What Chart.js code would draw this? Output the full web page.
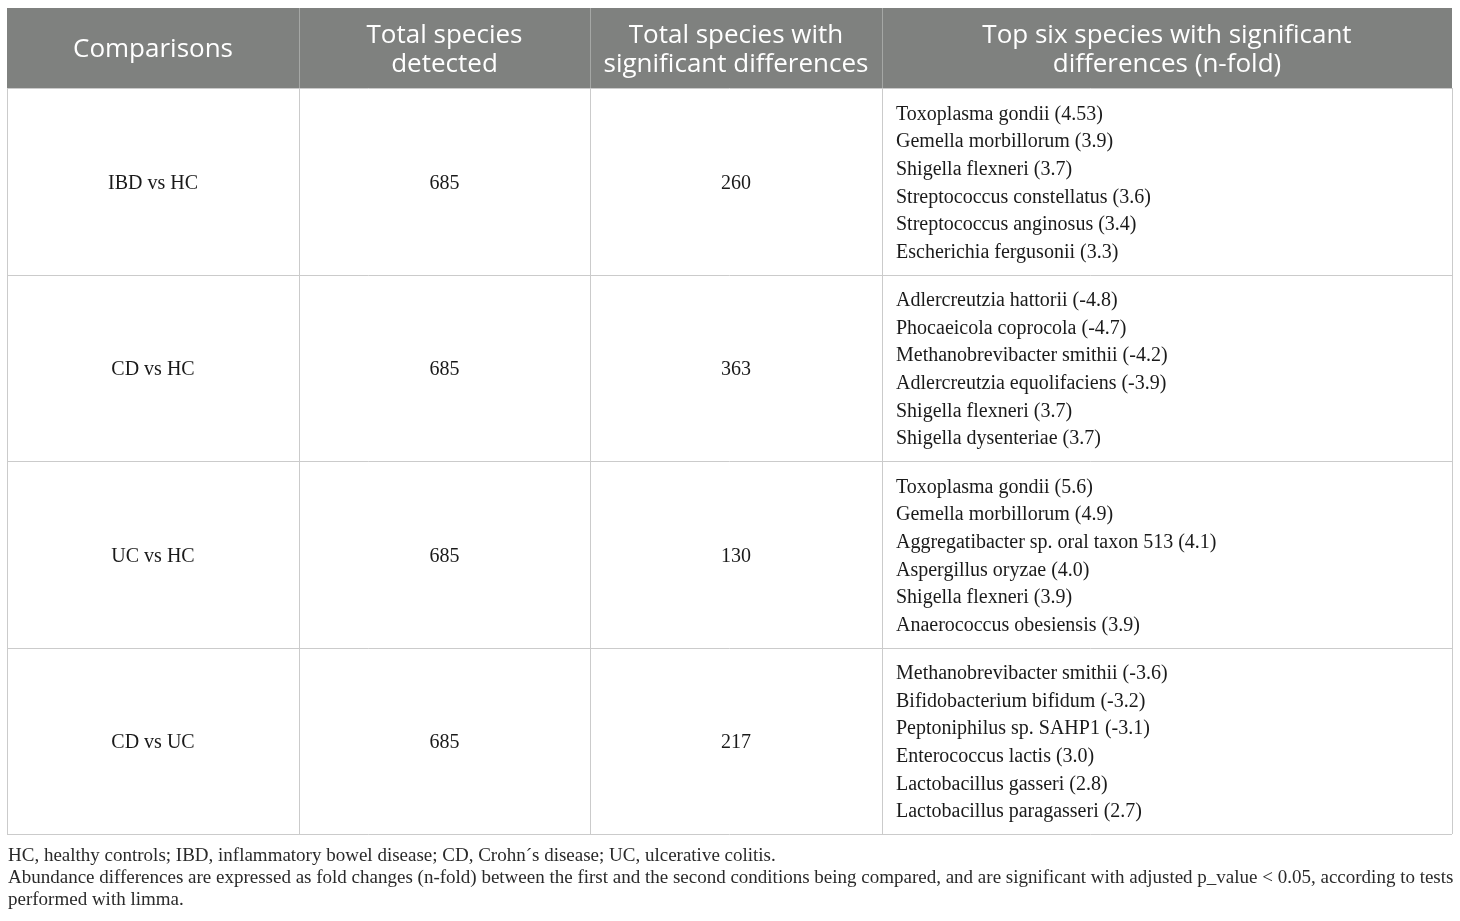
<!DOCTYPE html>
<html>
<head>
<meta charset="utf-8">
<script src="https://cdn.jsdelivr.net/npm/chart.js@4.4.1/dist/chart.umd.min.js"></script>
<style>
  html, body { margin: 0; padding: 0; background: #fff; }
  #wrap { width: 1460px; height: 921px; position: relative; }
</style>
</head>
<body>
<div id="wrap"><canvas id="tableChart"></canvas></div>
<script>
// ── Data ─────────────────────────────────────
const headerLabels = [
    ['Comparisons'],
    ['Total species', 'detected'],
    ['Total species with', 'significant differences'],
    ['Top six species with significant', 'differences (n-fold)']
];
const comparisons      = ['IBD vs HC', 'CD vs HC', 'UC vs HC', 'CD vs UC'];
const totalDetected    = [685, 685, 685, 685];
const totalSignificant = [260, 363, 130, 217];
const topSpecies = [
    ['Toxoplasma gondii', 'Gemella morbillorum', 'Shigella flexneri', 'Streptococcus constellatus', 'Streptococcus anginosus', 'Escherichia fergusonii'],
    ['Adlercreutzia hattorii', 'Phocaeicola coprocola', 'Methanobrevibacter smithii', 'Adlercreutzia equolifaciens', 'Shigella flexneri', 'Shigella dysenteriae'],
    ['Toxoplasma gondii', 'Gemella morbillorum', 'Aggregatibacter sp. oral taxon 513', 'Aspergillus oryzae', 'Shigella flexneri', 'Anaerococcus obesiensis'],
    ['Methanobrevibacter smithii', 'Bifidobacterium bifidum', 'Peptoniphilus sp. SAHP1', 'Enterococcus lactis', 'Lactobacillus gasseri', 'Lactobacillus paragasseri']
];
const foldChanges = [
    ['4.53', '3.9', '3.7', '3.6', '3.4', '3.3'],
    ['-4.8', '-4.7', '-4.2', '-3.9', '3.7', '3.7'],
    ['5.6', '4.9', '4.1', '4.0', '3.9', '3.9'],
    ['-3.6', '-3.2', '-3.1', '3.0', '2.8', '2.7']
];
const footnotes = [
    'HC, healthy controls; IBD, inflammatory bowel disease; CD, Crohn\u00b4s disease; UC, ulcerative colitis.',
    'Abundance differences are expressed as fold changes (n-fold) between the first and the second conditions being compared, and are significant with adjusted p_value < 0.05, according to tests',
    'performed with limma.'
];

// ── Layout (table units on the hidden scales) ─
const colEdges = [0, 292, 583, 875, 1445];
const rowEdges = [0, 80, 267, 453, 640, 826];

const headerBg   = '#7f817f';
const gridColor  = '#cbcbcb';
const headFont   = '26px "Open Sans"';
const bodyFont   = '20px "Liberation Serif"';
const noteFont   = '19px "Liberation Serif"';

const tablePlugin = {
    id: 'tableDraw',
    afterDraw(chart) {
        const { ctx, scales: { x, y }, chartArea } = chart;
        const px = v => x.getPixelForValue(v);
        const py = v => y.getPixelForValue(v);
        ctx.save();

        // header band
        ctx.fillStyle = headerBg;
        ctx.fillRect(px(0), py(0), px(1445) - px(0), py(rowEdges[1]) - py(0));

        // grid lines
        ctx.lineWidth = 1;
        ctx.strokeStyle = gridColor;
        rowEdges.forEach((r, i) => {
            if (i === 0) return;
            ctx.beginPath();
            ctx.moveTo(px(0), Math.round(py(r)) + 0.5);
            ctx.lineTo(px(1445), Math.round(py(r)) + 0.5);
            ctx.stroke();
        });
        colEdges.forEach((c, i) => {
            ctx.strokeStyle = gridColor;
            ctx.beginPath();
            ctx.moveTo(Math.round(px(c)) + 0.5, py(rowEdges[1]));
            ctx.lineTo(Math.round(px(c)) + 0.5, py(rowEdges[5]));
            ctx.stroke();
            if (i > 0 && i < colEdges.length - 1) {
                ctx.strokeStyle = '#a5a7a5';
                ctx.beginPath();
                ctx.moveTo(Math.round(px(c)) + 0.5, py(0));
                ctx.lineTo(Math.round(px(c)) + 0.5, py(rowEdges[1]));
                ctx.stroke();
            }
        });

        // header text
        ctx.fillStyle = '#ffffff';
        ctx.font = headFont;
        ctx.textAlign = 'center';
        ctx.textBaseline = 'middle';
        const hMid = (py(0) + py(rowEdges[1])) / 2;
        headerLabels.forEach((lines, c) => {
            const cx = (px(colEdges[c]) + px(colEdges[c + 1])) / 2;
            const lh = 29;
            lines.forEach((t, k) => {
                ctx.fillText(t, cx, hMid + (k - (lines.length - 1) / 2) * lh + 2);
            });
        });

        // body rows
        ctx.fillStyle = '#1a1a1a';
        ctx.font = bodyFont;
        comparisons.forEach((name, r) => {
            const mid = (py(rowEdges[r + 1]) + py(rowEdges[r + 2])) / 2 + 2;
            const cells = [name, String(totalDetected[r]), String(totalSignificant[r])];
            ctx.textAlign = 'center';
            cells.forEach((t, c) => {
                ctx.fillText(t, (px(colEdges[c]) + px(colEdges[c + 1])) / 2, mid);
            });
            ctx.textAlign = 'left';
            const lh = 27.6;
            topSpecies[r].forEach((sp, k) => {
                ctx.fillText(`${sp} (${foldChanges[r][k]})`, px(colEdges[3]) + 14, mid + (k - 2.5) * lh);
            });
        });

        // footnotes
        ctx.fillStyle = '#2a2a2a';
        ctx.font = noteFont;
        ctx.textAlign = 'left';
        footnotes.forEach((t, k) => {
            ctx.fillText(t, 8, chartArea.bottom + 22.5 + k * 22);
        });

        ctx.restore();
    }
};

new Chart(document.getElementById('tableChart'), {
    type: 'scatter',
    data: { datasets: [] },
    options: {
        responsive: true, maintainAspectRatio: false, animation: false,
        layout: { padding: { left: 7, top: 8, right: 8, bottom: 87 } },
        plugins: { legend: { display: false }, tooltip: { enabled: false } },
        scales: {
            x: { type: 'linear', min: 0, max: 1445, display: false },
            y: { type: 'linear', min: 0, max: 826, reverse: true, display: false }
        }
    },
    plugins: [tablePlugin]
});
</script>
</body>
</html>
